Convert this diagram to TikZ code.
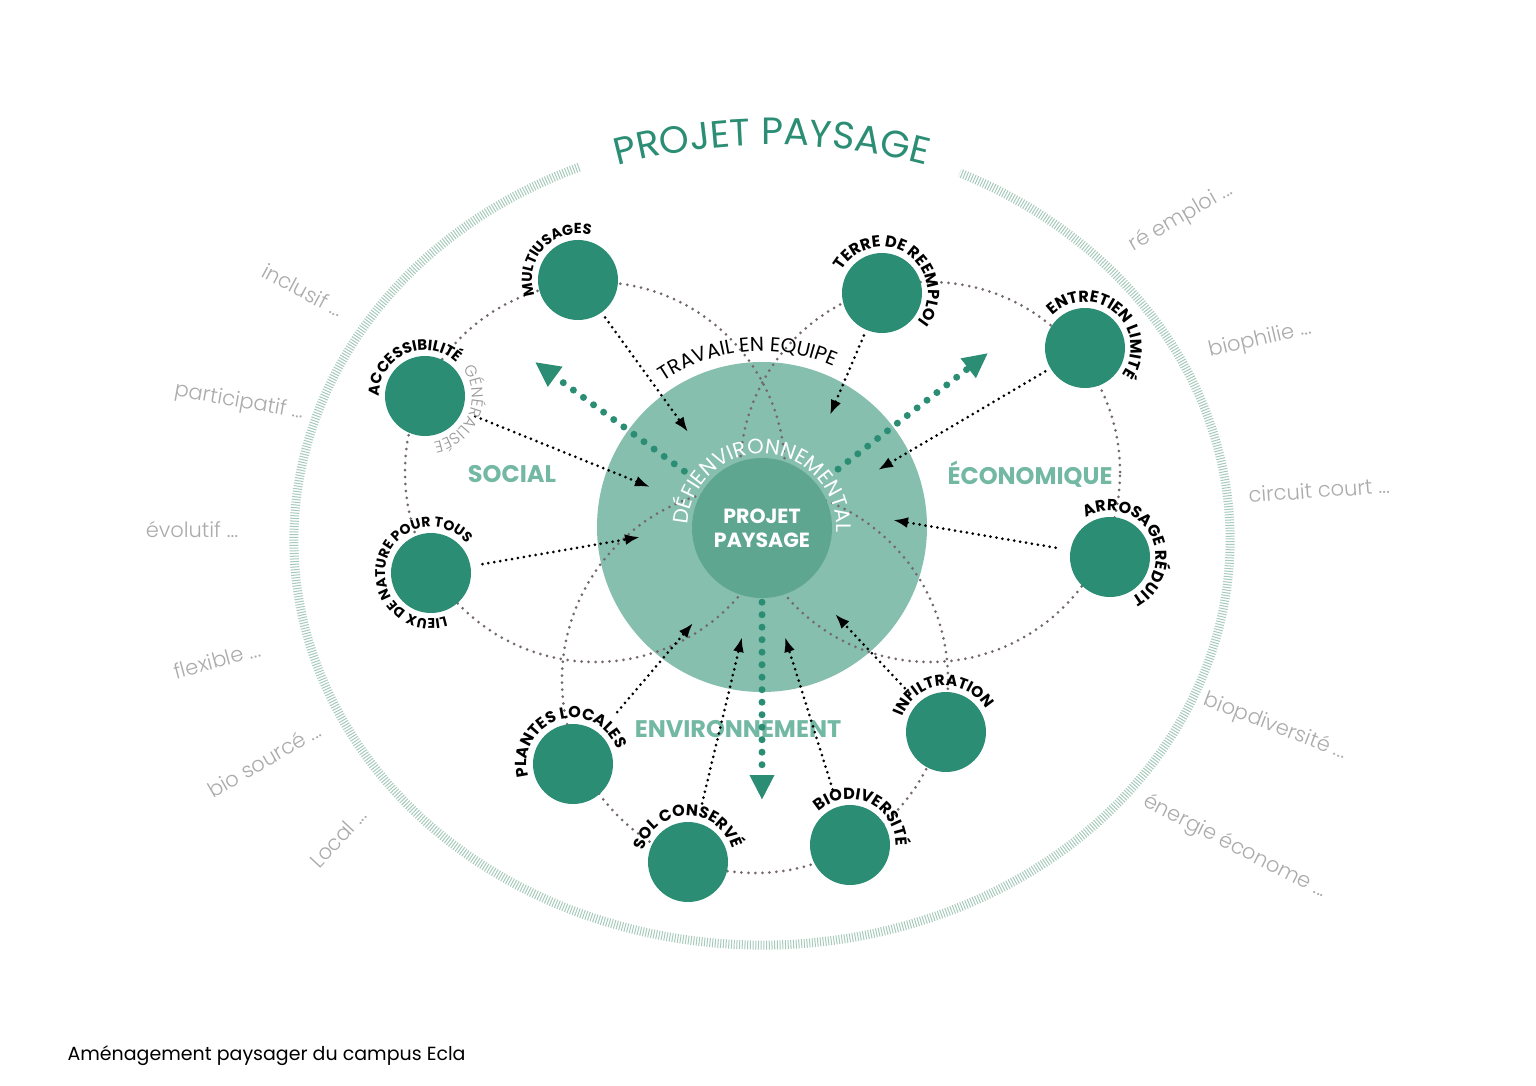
\documentclass[tikz,border=0pt]{standalone}
\usepackage{fontspec}
\setmainfont{Poppins}
\IfFontExistsTF{Poppins Light}{\newfontfamily\thinfont{Poppins Light}}{\newfontfamily\thinfont{Poppins}}
\usetikzlibrary{arrows.meta,decorations.text}
\definecolor{deepgreen}{HTML}{2B8E74}
\definecolor{midgreen}{HTML}{5EA690}
\definecolor{palegreen}{HTML}{86BFAE}
\definecolor{sectorgreen}{HTML}{72B8A3}
\definecolor{ringgreen}{HTML}{A6CABC}
\definecolor{dotgrey}{HTML}{74686D}
\definecolor{wordgrey}{HTML}{ABABAB}
\definecolor{softgrey}{HTML}{989898}
% label around a node: node, middle angle, font size, text
\newcommand\nodelabel[4]{%
	\path[decorate,decoration={text along path,text align=center,text={|\fontsize{#3}{#3}\selectfont\bfseries|#4}}]
	(#1.center) ++(#2+150:46) arc[start angle=#2+150,end angle=#2-150,radius=46];}
\tikzset
{
	my node/.style={circle,fill=deepgreen,minimum size=80pt,inner sep=0pt},
	my arrow/.style={line width=3pt,dash pattern=on 0pt off 6pt,line cap=round,-{Latex[length=15pt,width=11pt]}},
	my green arrow/.style={deepgreen,line width=7pt,dash pattern=on 0pt off 12.5pt,line cap=round,-{Triangle[length=25pt,width=23pt]}},
	my circle/.style={dotgrey,line width=3pt,dash pattern=on 0pt off 7pt,line cap=round},
	my word/.style={wordgrey,font=\thinfont\fontsize{21}{21}\selectfont},
	my sector/.style={sectorgreen,font=\fontsize{24}{24}\selectfont\bfseries}
}
\begin{document}
\begin{tikzpicture}[x=1pt,y=1pt,line join=round]
	\useasboundingbox (0,0) rectangle (1536,-1086);
	\fill[white] (0,0) rectangle (1536,-1086);
	% outer ring and title
	\draw[ringgreen,line width=9pt,dash pattern=on 1pt off 1.7pt] (762,-540) ++(113:468 and 405) arc[start angle=113,end angle=425,x radius=468,y radius=405];
	\path[decorate,decoration={text along path,text align=center,text color=deepgreen,text={|\fontsize{38}{38}\selectfont|PROJET PAYSAGE}}] (772,-745) ++(110:600) arc[start angle=110,end angle=70,radius=600];
	% words around
	\foreach[count=\i] \x/\y/\r/\w in {303/290/-28/{inclusif ...},239/402/-10/{participatif ...},192/530/0/{évolutif ...},217/660/15/{flexible ...},264/760/30/{bio sourcé ...},338/838/47/{Local ...},1181/218/30/{ré emploi ...},1260/340/13/{biophilie ...},1319/490/4/{circuit court ...},1275/727/-21/{biopdiversité ...},1235/847/-27/{énergie économe ...}}
		\node[my word,rotate=\r] (word\i) at (\x,-\y) {\w};
	% centre
	\node[circle,fill=palegreen,minimum size=330pt,inner sep=0pt] (defi) at (762,-527) {};
	\draw[my circle] (595,-472) circle[radius=190];
	\draw[my circle] (930,-472) circle[radius=190];
	\draw[my circle] (755,-680) circle[radius=193];
	\node[circle,fill=midgreen,minimum size=140pt,inner sep=0pt,text=white,align=center,font=\fontsize{20.5}{24}\selectfont\bfseries] (core) at (762,-528) {PROJET\\PAYSAGE};
	\path[decorate,decoration={text along path,text align=center,text color=white,text={|\fontsize{21}{21}\selectfont|DÉFIENVIRONNEMENTAL}}] (core.center) ++(207:74) arc[start angle=207,end angle=-33,radius=74];
	\path[decorate,decoration={text along path,text align=center,text={|\fontsize{20}{20}\selectfont|TRAVAIL EN EQUIPE}}] (defi.center) ++(135:176) arc[start angle=135,end angle=55,radius=176];
	% sectors
	\node[my sector] (social) at (512,-474) {SOCIAL};
	\node[my sector] (eco) at (1030,-474) {ÉCONOMIQUE};
	\node[my sector] (env) at (738,-729) {ENVIRONNEMENT};
	% green arrows
	\coordinate (social out) at (535,-362);
	\coordinate (eco out) at (988,-353);
	\coordinate (env out) at (762,-800);
	\draw[my green arrow,shorten <=26pt] (core) -- (social out);
	\draw[my green arrow,shorten <=26pt] (core) -- (eco out);
	\draw[my green arrow,shorten <=4pt] (core) -- (env out);
	% nodes
	\foreach \n/\x/\y in {multi/578/280,acces/425/396,lieux/431/573,terre/882/293,entretien/1085/348,arrosage/1110/557,plantes/573/764,sol/688/862,biodiv/850/845,infil/946/732}
		\node[my node] (\n) at (\x,-\y) {};
	% arrows
	\foreach \n/\x/\y/\s in {multi/688/432/6pt,acces/650/487/14pt,lieux/640/537/12pt,terre/830/415/6pt,entretien/878/470/6pt,arrosage/893/520/15pt,plantes/693/623/28pt,sol/742/637/20pt,biodiv/785/637/18pt,infil/835/614/14pt}
	{
		\coordinate (\n tip) at (\x,-\y);
		\draw[my arrow,shorten <=\s] (\n) -- (\n tip);
	}
	% labels
	\nodelabel{multi}{137}{14.5}{MULTIUSAGES}
	\nodelabel{acces}{113}{15}{ACCESSIBILITÉ}
	\path[decorate,decoration={text along path,text align=center,text color=softgrey,text={|\thinfont\fontsize{16}{16}\selectfont|GÉNÉRALISÉE}}] (acces.center) ++(128:47) arc[start angle=128,end angle=-172,radius=47];
	\nodelabel{lieux}{164}{14}{LIEUX DE NATURE POUR TOUS}
	\nodelabel{terre}{56}{16}{TERRE DE REEMPLOI}
	\nodelabel{entretien}{50}{16}{ENTRETIEN LIMITÉ}
	\nodelabel{arrosage}{30}{16}{ARROSAGE RÉDUIT}
	\nodelabel{plantes}{107}{16}{PLANTES LOCALES}
	\nodelabel{sol}{91}{16}{SOL CONSERVÉ}
	\nodelabel{biodiv}{66}{16}{BIODIVERSITÉ}
	\nodelabel{infil}{95}{15.5}{INFILTRATION}
	\node[anchor=west,font=\fontsize{19}{19}\selectfont] (caption) at (64,-1056) {Aménagement paysager du campus Ecla};
\end{tikzpicture}
\end{document}
